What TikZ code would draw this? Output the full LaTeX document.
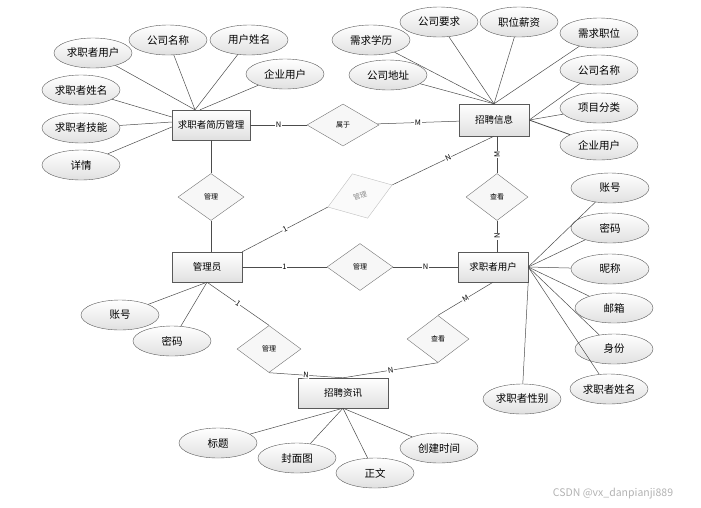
\documentclass[tikz,border=0pt]{standalone}
\usepackage{fontspec}
\newfontfamily\cjk{Noto Sans CJK SC}
\usetikzlibrary{positioning,shapes.geometric,calc}

\begin{document}
\begin{tikzpicture}[
    x=1pt, y=-1pt,
    font=\cjk\fontsize{9.5}{11}\selectfont,
    ent/.style={draw=black!65, top color=white, bottom color=black!12,
                minimum width=70pt, minimum height=30pt, inner sep=2pt},
    attr/.style={ellipse, draw=black!65, top color=white, bottom color=black!12,
                 minimum width=78pt, minimum height=30pt, inner sep=0pt,
                 font=\cjk\fontsize{10.5}{12}\selectfont},
    rel/.style={diamond, draw=black!55, fill=black!3, minimum width=66pt,
                minimum height=47pt, inner sep=0pt,
                font=\cjk\fontsize{7}{8}\selectfont},
    link/.style={draw=black!70, line width=0.5pt},
    card/.style={font=\cjk\fontsize{7.5}{8}\selectfont, fill=white, inner sep=0.6pt},
  ]
  \useasboundingbox (0,0) rectangle (701,507);

  % --- Entities ---
  \node[ent, minimum width=78pt] (resume) at (211,125) {求职者简历管理};
  \node[ent, minimum height=32pt] (recruit) at (494,120) {招聘信息};
  \node[ent] (admin) at (207,267) {管理员};
  \node[ent] (seeker) at (493,267) {求职者用户};
  \node[ent, minimum width=90pt] (news) at (343,393) {招聘资讯};

  % --- Relations ---
  \node[rel, minimum width=72pt, minimum height=42pt] (belong) at (343,125) {属于};
  \node[rel] (mgrA) at (211,197) {管理};
  \node[rel, draw=black!25, fill=black!2, text=black!45,
        minimum width=68pt, minimum height=47pt, rotate=19] (mgrB) at (360,196) {管理};
  \node[rel] (mgrC) at (360,267) {管理};
  \node[rel, minimum width=64pt] (mgrD) at (269,349) {管理};
  \node[rel, minimum width=62pt] (viewA) at (497,197) {查看};
  \node[rel, minimum width=62pt] (viewB) at (438,339) {查看};

  % --- Relation links ---
  \draw[link] (resume) -- node[card] {N} (belong);
  \draw[link] (belong) -- node[card] {M} (recruit);
  \draw[link] (resume) -- (mgrA);
  \draw[link] (mgrA) -- (mgrA |- admin.north);
  \draw[link] (admin.north east) -- node[card, sloped] {1} (mgrB.west);
  \draw[link] (mgrB.east) -- node[card, sloped, pos=0.55] {N} (recruit.south);
  \draw[link] (admin) -- node[card] {1} (mgrC);
  \draw[link] (mgrC) -- node[card] {N} (seeker);
  \draw[link] (viewA) -- node[card, rotate=90] {M} (viewA |- recruit.south);
  \draw[link] (viewA) -- node[card, rotate=90] {N} (viewA |- seeker.north);
  \draw[link] (admin.south) -- node[card, sloped] {1} (mgrD.north);
  \draw[link] (mgrD.south) -- node[card, sloped] {N} (news.north);
  \draw[link] (viewB.north) -- node[card, sloped] {M} (seeker.south);
  \draw[link] (viewB.south) -- node[card, sloped] {N} (news.north);

  % --- Resume attributes ---
  \coordinate (resumeTop) at ([xshift=-16pt]resume.north);
  \node[attr] (rUser) at (93,53) {求职者用户};
  \node[attr] (rCompany) at (168,40) {公司名称};
  \node[attr] (rName) at (249,40) {用户姓名};
  \node[attr] (rFirm) at (285,74) {企业用户};
  \node[attr] (rSeeker) at (81,90) {求职者姓名};
  \node[attr] (rSkill) at (81,128) {求职者技能};
  \node[attr] (rDetail) at (81,165) {详情};
  \draw[link] (rUser) -- (resumeTop);
  \draw[link] (rCompany) -- (resumeTop);
  \draw[link] (rName) -- (resumeTop);
  \draw[link] (rFirm) -- ([xshift=-11pt]resume.north);
  \draw[link] (rSeeker) -- ([yshift=8pt]resume.west);
  \draw[link] (rSkill) -- ([yshift=3pt]resume.west);
  \draw[link] (rDetail) -- ([yshift=-2pt]resume.west);

  % --- Recruit attributes ---
  \node[attr] (jEdu) at (371,40) {需求学历};
  \node[attr] (jReq) at (439,22) {公司要求};
  \node[attr] (jPay) at (519,22) {职位薪资};
  \node[attr] (jPost) at (599,33) {需求职位};
  \node[attr] (jAddr) at (388,75) {公司地址};
  \node[attr] (jCompany) at (599,70) {公司名称};
  \node[attr] (jType) at (599,108) {项目分类};
  \node[attr] (jFirm) at (599,145) {企业用户};
  \draw[link] (jEdu) -- (recruit.north);
  \draw[link] (jReq) -- (recruit.north);
  \draw[link] (jPay) -- (recruit.north);
  \draw[link] (jPost) -- (recruit.north);
  \draw[link] (jAddr) -- (recruit.north);
  \draw[link] (jCompany) -- (recruit.east);
  \draw[link] (jType) -- (recruit.east);
  \draw[link, line width=0.8pt] (jFirm) -- (recruit.east);

  % --- Seeker attributes ---
  \node[attr] (sAcct) at (610,188) {账号};
  \node[attr] (sPwd) at (610,228) {密码};
  \node[attr] (sNick) at (610,269) {昵称};
  \node[attr] (sMail) at (614,308) {邮箱};
  \node[attr] (sId) at (614,349) {身份};
  \node[attr] (sName) at (609,389) {求职者姓名};
  \node[attr] (sSex) at (522,399) {求职者性别};
  \draw[link] (sAcct) -- (seeker.east);
  \draw[link] (sPwd) -- (seeker.east);
  \draw[link] (sNick) -- (seeker.east);
  \draw[link] (sMail) -- (seeker.east);
  \draw[link] (sId) -- (seeker.east);
  \draw[link] (sName) -- (seeker.east);
  \draw[link] (sSex) -- (seeker.south east);

  % --- Admin attributes ---
  \node[attr] (aAcct) at (120,315) {账号};
  \node[attr] (aPwd) at (172,341) {密码};
  \draw[link] (aAcct) -- (admin.south);
  \draw[link] (aPwd) -- (admin.south);

  % --- News attributes ---
  \node[attr] (nTitle) at (218,443) {标题};
  \node[attr] (nCover) at (297,458) {封面图};
  \node[attr] (nBody) at (375,473) {正文};
  \node[attr] (nTime) at (439,448) {创建时间};
  \draw[link] (nTitle) -- (news.south);
  \draw[link] (nCover) -- (news.south);
  \draw[link] (nBody) -- (news.south);
  \draw[link] (nTime) -- (news.south);

  \node[text=black!30, font=\cjk\fontsize{10.5}{12}\selectfont] (mark) at (613,494)
    {CSDN @vx\_danpianji889};
\end{tikzpicture}
\end{document}
